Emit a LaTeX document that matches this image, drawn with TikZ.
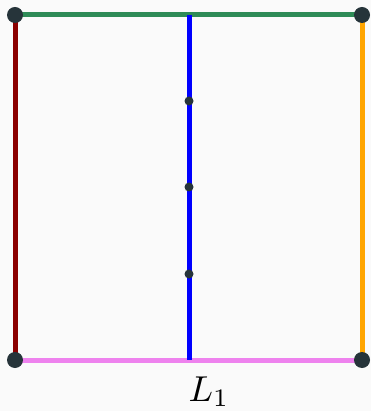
\documentclass[tikz,border=0pt]{standalone}
\definecolor{bg}{RGB}{250,250,250}
\definecolor{topc}{RGB}{46,139,87}
\definecolor{leftc}{RGB}{139,0,0}
\definecolor{rightc}{RGB}{255,165,0}
\definecolor{botc}{RGB}{238,130,238}
\definecolor{dotc}{RGB}{38,52,58}
\begin{document}
\begin{tikzpicture}[x=1pt,y=-1pt,
  edge/.style={line width=5pt},
  corner/.style={circle,fill=dotc,inner sep=0pt,minimum size=16pt},
  mid/.style={circle,fill=dotc,inner sep=0pt,minimum size=9pt}]
\fill[bg] (0,0) rectangle (371,411);
\useasboundingbox (0,0) rectangle (371,411);
\coordinate (tl) at (15,15);
\coordinate (tr) at (362,15);
\coordinate (bl) at (15,360);
\coordinate (br) at (362,360);
\coordinate (bt) at (189,15);
\coordinate (bb) at (189,360);
\draw[edge,leftc] (tl) -- (bl);
\draw[edge,rightc] (tr) -- (br);
\draw[edge,topc] (tl) -- (tr);
\draw[edge,botc] (bl) -- (br);
\draw[edge,blue] (bt) -- (bb);
\node[corner] (n1) at (tl) {};
\node[corner] (n2) at (tr) {};
\node[corner] (n3) at (bl) {};
\node[corner] (n4) at (br) {};
\node[mid] (m1) at (189,101) {};
\node[mid] (m2) at (189,187) {};
\node[mid] (m3) at (189,274) {};
\node[anchor=base,inner sep=0pt,scale=3.6] (lab) at (209,401) {$L_1$};
\end{tikzpicture}
\end{document}
